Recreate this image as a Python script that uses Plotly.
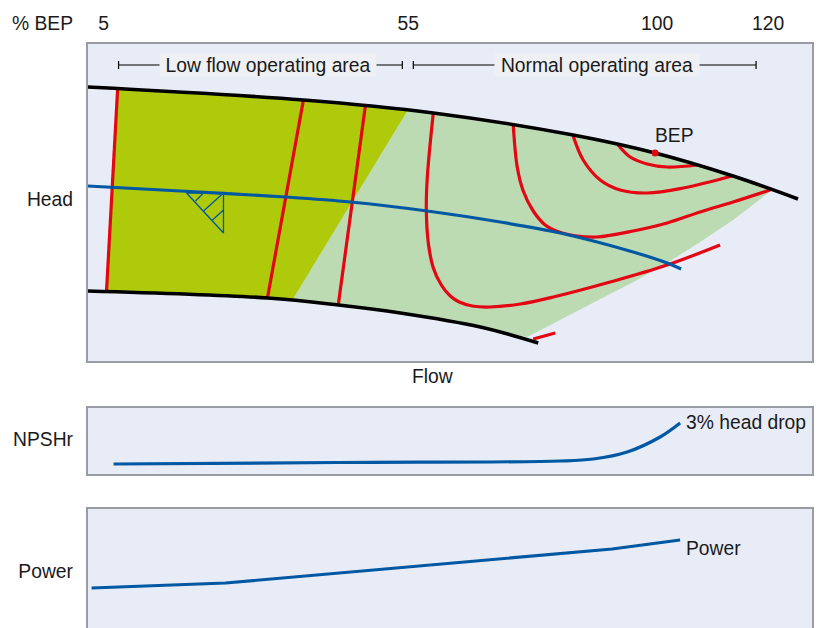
import plotly.graph_objects as go

W, H = 818, 628
# Flow scale shared by panels; head, NPSHr and power in chart units
bep_ticks_flow = [16, 321, 570, 681]
bep_ticks_text = ["5", "55", "100", "120"]

top_flow = [0, 216, 346, 486, 568, 646, 711]
top_head = [274, 261, 248, 226, 208, 185, 162]
bot_flow = [0, 180, 251, 313, 393, 451]
bot_head = [70, 63, 56, 48, 34, 18]

dark_flow = [29, 120, 216, 278, 320, 205, 180, 100, 20]
dark_head = [273, 268, 261, 255, 250, 61, 63, 67, 70]
light_flow = [320, 346, 426, 486, 531, 568, 610, 646, 685, 646, 613, 580, 550, 440, 393, 313, 251, 205]
light_head = [250, 248, 236, 226, 216, 208, 196, 185, 171, 141, 119, 98, 81, 24, 34, 48, 56, 61]

iso_flow = [
    [30, 19],
    [216, 180],
    [278, 251],
    [346, 340, 339, 341, 346, 354, 363, 372, 385, 403, 433, 466, 523, 580, 633],
    [426, 430, 436, 446, 458, 472, 490, 510, 546, 580, 613, 646, 683],
    [486, 496, 513, 533, 560, 596, 645],
    [531, 543, 560, 580, 610],
    [446, 468],
]
iso_head = [
    [271, 71],
    [261, 63],
    [255, 57],
    [248, 184, 151, 118, 93, 76, 65, 59, 55, 54, 57, 64, 79, 96, 116],
    [236, 194, 170, 150, 136, 129, 125, 124, 130, 138, 149, 159, 171],
    [225, 201, 181, 171, 168, 173, 185],
    [216, 204, 197, 194, 196],
    [22, 28],
]

wave_flow = [0, 93, 198, 263, 340, 413, 473, 546, 580, 594]
wave_head = [175, 170, 164, 159, 150, 139, 128, 109, 98, 92]

level_flow = [99, 136, 136, 99, None, 108, 116, None, 116, 136, None, 125, 136]
level_head = [168, 128, 168, 168, None, 160, 168, None, 150, 168, None, 141, 151]

span_flow = [[31, 31, None, 31, 315, None, 315, 315], [326, 326, None, 326, 669, None, 669, 669]]
span_head = [[292, 300, None, 296, 296, None, 292, 300], [292, 300, None, 296, 296, None, 292, 300]]
span_text = ["Low flow operating area", "Normal operating area"]
span_mid = [181, 510]
span_gap = [216, 204]

npsh_flow = [26, 250, 473, 506, 540, 573, 593]
npsh_val = [10, 11.5, 13, 15, 22, 37, 51]
power_flow = [4, 138, 525, 593]
power_val = [40, 45, 79, 88]

TXT = "#1a1a1a"
FONT = "Liberation Sans"
FS = 19.3
RED = "#e30613"
BLUE = "#0058a3"
GRID = "#999ca3"

fig = go.Figure()
def add(x, y, **kw):
    kw.setdefault("hoverinfo", "skip")
    fig.add_trace(go.Scatter(x=x, y=y, showlegend=False, **kw))

add(light_flow, light_head, mode="lines", fill="toself", fillcolor="#bddbb3", line=dict(width=0, color="#bddbb3"))
add(dark_flow, dark_head, mode="lines", fill="toself", fillcolor="#afca0b", line=dict(width=0, color="#afca0b"))
for sx, sy in zip(span_flow, span_head):
    add(sx, sy, mode="lines", line=dict(color="black", width=1.2))
for fx, hy in zip(iso_flow, iso_head):
    add(fx, hy, mode="lines", line=dict(color=RED, width=3.2, shape="spline"))
add(wave_flow, wave_head, mode="lines", line=dict(color=BLUE, width=3.2, shape="spline"))
add(level_flow, level_head, mode="lines", line=dict(color=BLUE, width=1.3))
add(top_flow, top_head, mode="lines", line=dict(color="black", width=3.6, shape="spline"))
add(bot_flow, bot_head, mode="lines", line=dict(color="black", width=3.6, shape="spline"))
add([568], [208], mode="markers", marker=dict(color=RED, size=7))
add(npsh_flow, npsh_val, xaxis="x2", yaxis="y2", mode="lines", line=dict(color=BLUE, width=3.2, shape="spline"))
add(power_flow, power_val, xaxis="x3", yaxis="y3", mode="lines", line=dict(color=BLUE, width=3.2))

x0, x1 = 87.6 / W, 812 / W
def ydom(top, bot):
    return [1 - bot / H, 1 - top / H]
line = dict(showline=True, linecolor=GRID, linewidth=1.5, mirror=True, zeroline=False, showgrid=False)
font = dict(family=FONT, size=FS, color=TXT)
noticks = dict(ticks="", showticklabels=False)

def ylab(text, val):
    return dict(tickmode="array", tickvals=[val], ticktext=[text], ticks="outside", ticklen=9,
                tickcolor="rgba(0,0,0,0)", tickfont=font)

fig.update_layout(
    width=W, height=H, margin=dict(l=0, r=0, t=0, b=0), autosize=False,
    paper_bgcolor="white", plot_bgcolor="#e8ecf7", font=font, showlegend=False,
    xaxis=dict(domain=[x0, x1], range=[0, 725], side="top", tickmode="array",
               tickvals=bep_ticks_flow, ticktext=bep_ticks_text, ticks="outside", ticklen=4,
               tickcolor="rgba(0,0,0,0)", tickfont=font, **line),
    yaxis=dict(domain=ydom(43.6, 361), range=[0, 317.4], **ylab("Head", 162), **line),
    xaxis2=dict(domain=[x0, x1], range=[0, 725], anchor="y2", **noticks, **line),
    yaxis2=dict(domain=ydom(408, 474), range=[0, 66], anchor="x2", **ylab("NPSHr", 35), **line),
    xaxis3=dict(domain=[x0, x1], range=[0, 725], anchor="y3", side="top", **noticks,
                showline=True, linecolor=GRID, linewidth=1.5, zeroline=False, showgrid=False),
    yaxis3=dict(domain=[0, 1 - 508.5 / H], range=[0, 119.5], anchor="x3", **ylab("Power", 57), **line),
)
def note(text, x, y, xref="x", yref="y", xanchor="center", **kw):
    fig.add_annotation(text=text, x=x, y=y, xref=xref, yref=yref, xanchor=xanchor, yanchor="middle",
                       showarrow=False, font=font, **kw)
for t, m, g in zip(span_text, span_mid, span_gap):
    note(t, m, 296, bgcolor="#eef0f3", borderpad=0, width=g, height=22)
note("BEP", 566, 226, xanchor="left")
note("Flow", 432 / W, 1 - 376 / H, xref="paper", yref="paper")
note("% BEP", 75 / W, 1 - 23 / H, xref="paper", yref="paper", xanchor="right")
note("3% head drop", 597, 52, xref="x2", yref="y2", xanchor="left")
note("Power", 597, 80, xref="x3", yref="y3", xanchor="left")

fig.write_html("out.html", config=dict(displayModeBar=False),
               post_script="document.body.style.margin='0';document.body.style.overflow='hidden';")
